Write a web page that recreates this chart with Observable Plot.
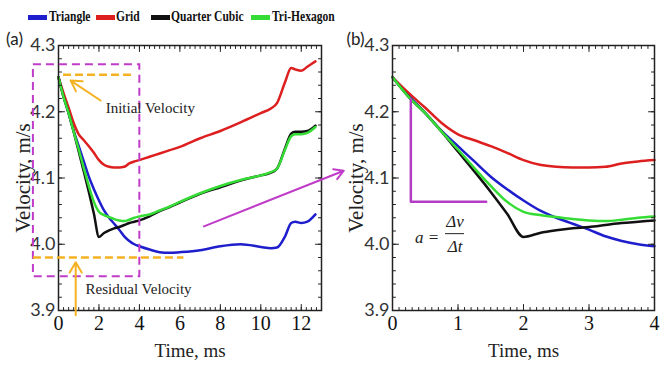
<!DOCTYPE html>
<html><head><meta charset="utf-8">
<script src="https://cdn.jsdelivr.net/npm/d3@7"></script>
<script src="https://cdn.jsdelivr.net/npm/@observablehq/plot@0.6"></script>
<style>
body{margin:0;background:#fff;}
#wrap{position:relative;width:667px;height:365px;overflow:hidden;background:#fff;}
#legend{position:absolute;left:0;top:0;width:667px;height:30px;}
.sw{position:absolute;top:15px;height:5px;width:19px;}
.lb{position:absolute;top:7px;font:bold 15px "Liberation Serif",serif;transform:scaleX(0.77);transform-origin:left center;white-space:nowrap;color:#111;line-height:18px;}
#pa{position:absolute;left:0;top:30px;}
#pb{position:absolute;left:345px;top:30px;}
svg{overflow:visible;}
</style></head><body>
<div id="wrap"><div id="legend"></div><div id="pa"></div><div id="pb"></div></div>
<script>
// ---------- data ----------
const seriesNames = ["Triangle", "Grid", "Quarter Cubic", "Tri-Hexagon"];
const seriesColors = ["#1e1ecc", "#dd1f1f", "#111111", "#35dc35"];
const time = [0,0.25,0.5,0.75,1,1.25,1.5,1.75,2,2.25,2.5,2.75,3,3.25,3.5,3.75,4,4.5,5,5.5,6,7,8,9,10,10.5,10.8,11.2,11.5,11.7,12,12.3,12.7];
const triangle = [4.252,4.224,4.198,4.171,4.148,4.125,4.102,4.083,4.066,4.051,4.040,4.031,4.022,4.012,4.005,4.000,3.997,3.992,3.988,3.987,3.988,3.991,3.997,4.000,3.996,3.994,3.995,4.012,4.032,4.034,4.032,4.034,4.045];
const grid = [4.252,4.228,4.206,4.183,4.166,4.157,4.148,4.138,4.127,4.120,4.117,4.116,4.116,4.117,4.122,4.125,4.127,4.132,4.137,4.142,4.147,4.160,4.171,4.184,4.198,4.205,4.213,4.245,4.266,4.264,4.262,4.268,4.276];
const quarterCubic = [4.252,4.222,4.198,4.170,4.140,4.110,4.079,4.046,4.011,4.017,4.021,4.024,4.026,4.029,4.032,4.034,4.036,4.042,4.050,4.056,4.063,4.076,4.086,4.096,4.104,4.108,4.114,4.145,4.167,4.170,4.170,4.171,4.179];
const triHexagon = [4.252,4.222,4.198,4.170,4.143,4.115,4.088,4.064,4.049,4.044,4.041,4.038,4.036,4.035,4.037,4.040,4.042,4.045,4.051,4.057,4.064,4.077,4.088,4.097,4.104,4.109,4.114,4.143,4.163,4.166,4.166,4.168,4.177];
const seriesValues = [triangle, grid, quarterCubic, triHexagon];

const xTicksA = [0,2,4,6,8,10,12];
const xTicksB = [0,1,2,3,4];
const yTicks = [3.9,4.0,4.1,4.2,4.3];

// annotations (data coordinates)
const boxT = [-1.24, 4.02], boxV = [3.951, 4.271];
const initLineT = [0.25, 3.72], initLineV = 4.256;
const resLineT = [-1.24, 6.2], resLineV = 3.980;
const initArrow = [2.08, 4.217, 0.6, 4.247];
const resArrow = [0.85, 3.893, 0.85, 3.973];
const initLabel = [2.33, 4.205, "Initial Velocity"];
const resLabel = [1.34, 3.932, "Residual Velocity"];
const linkArrow = [7.19, 4.027, 14.1, 4.111];
const slopeT = [0.28, 0.28, 1.43], slopeV = [4.219, 4.064, 4.064];
const formula = {aT: 0.53, aV: 4.010, numV: 4.034, fracT: 0.955, barT: [0.81, 1.10], barV: 4.016, denV: 3.997};

// ---------- build table ----------
const rows = seriesNames.flatMap((s, i) => time.map((t, j) => ({series: s, t, v: seriesValues[i][j]})));

// ---------- legend ----------
const legendSwX = [28, 96, 151, 251], legendLbX = [49, 116, 171, 272];
const lg = document.getElementById("legend");
seriesNames.forEach((s, i) => {
  const sw = document.createElement("div"); sw.className = "sw";
  sw.style.left = legendSwX[i] + "px"; sw.style.background = seriesColors[i]; lg.appendChild(sw);
  const lb = document.createElement("div"); lb.className = "lb";
  lb.style.left = legendLbX[i] + "px"; lb.textContent = s; lg.appendChild(lb);
});

// ---------- helpers ----------
const MAG = "#c03cc8", ORG = "#f4b223";
const tickShape = {draw(ctx, l) { ctx.moveTo(0, 0); ctx.lineTo(0, -l); }};
function frameTicks(xd, yd, xMinor, xMajor) {
  const yMinor = d3.range(3.9, 4.3001, 0.02), yMajor = yTicks;
  const o = {anchor: "start", shape: tickShape, stroke: "#222", strokeWidth: 1};
  const m = [];
  for (const [vals, len] of [[xMinor, 3], [xMajor, 6]]) {
    m.push(Plot.vector(vals, {...o, x: d => d, y: yd[0], length: len, rotate: 0}));
    m.push(Plot.vector(vals, {...o, x: d => d, y: yd[1], length: len, rotate: 180}));
  }
  for (const [vals, len] of [[yMinor, 3], [yMajor, 6]]) {
    m.push(Plot.vector(vals, {...o, y: d => d, x: xd[0], length: len, rotate: 90}));
    m.push(Plot.vector(vals, {...o, y: d => d, x: xd[1], length: len, rotate: -90}));
  }
  return m;
}
function commonMarks(xd, yd, xTicks, panelLabel, dxLabel, dxTitle) {
  return [
    // x tick labels (serif)
    Plot.text(xTicks, {x: d => d, y: yd[0], dy: 13, text: d => String(d), fontSize: 20, fontFamily: "Liberation Serif", fill: "#111", textAnchor: "middle", lineAnchor: "middle"}),
    // y tick labels (sans)
    Plot.text(yTicks, {x: xd[0], y: d => d, dx: -3, text: d => d.toFixed(1), fontSize: 18, fontFamily: "Lato", fill: "#333", textAnchor: "end", lineAnchor: "middle"}),
    Plot.text([panelLabel], {frameAnchor: "top-left", dx: dxLabel, dy: -6, text: d => d, fontSize: 17, fontFamily: "Lato", fill: "#222", textAnchor: "middle", lineAnchor: "middle"}),
    Plot.text(["Time, ms"], {frameAnchor: "bottom", dy: 40, text: d => d, fontSize: 19, fontFamily: "Liberation Serif", fill: "#222", textAnchor: "middle", lineAnchor: "middle"}),
    Plot.text(["Velocity, m/s"], {frameAnchor: "left", dx: dxTitle, rotate: -90, text: d => d, fontSize: 21, fontFamily: "Liberation Serif", fill: "#222", letterSpacing: "1.5px", textAnchor: "middle", lineAnchor: "middle"})
  ];
}
const colorScale = {domain: seriesNames, range: seriesColors};

// ---------- panel (a) ----------
const xdA = [0, 13], yd = [3.9, 4.3];
const pa = Plot.plot({
  width: 345, height: 335, marginLeft: 58, marginRight: 24, marginTop: 15, marginBottom: 55,
  x: {domain: xdA, axis: null}, y: {domain: yd, axis: null}, color: colorScale,
  style: {background: "transparent", overflow: "visible"},
  marks: [
    ...commonMarks(xdA, yd, xTicksA, "(a)", -44, -35),
    Plot.line(rows, {x: "t", y: "v", z: "series", stroke: "series", strokeWidth: 2.5, curve: "monotone-x"}),
    Plot.frame({stroke: "#222", strokeWidth: 1.5}),
    ...frameTicks(xdA, yd, d3.range(0, 13.001, 0.25), xTicksA),
    Plot.rect([0], {x1: boxT[0], x2: boxT[1], y1: boxV[0], y2: boxV[1], fill: "none", stroke: MAG, strokeWidth: 2, strokeDasharray: "8,5"}),
    Plot.ruleY([initLineV], {x1: initLineT[0], x2: initLineT[1], stroke: ORG, strokeWidth: 2.5, strokeDasharray: "8,4"}),
    Plot.ruleY([resLineV], {x1: resLineT[0], x2: resLineT[1], stroke: ORG, strokeWidth: 2.5, strokeDasharray: "8,4"}),
    Plot.arrow([initArrow], {x1: d => d[0], y1: d => d[1], x2: d => d[2], y2: d => d[3], stroke: ORG, strokeWidth: 2, headLength: 9}),
    Plot.arrow([resArrow], {x1: d => d[0], y1: d => d[1], x2: d => d[2], y2: d => d[3], stroke: ORG, strokeWidth: 2, headLength: 9}),
    Plot.text([initLabel, resLabel], {x: d => d[0], y: d => d[1], text: d => d[2], textAnchor: "start", fontSize: 15, fontFamily: "Liberation Serif", fill: "#222"}),
    Plot.arrow([linkArrow], {x1: d => d[0], y1: d => d[1], x2: d => d[2], y2: d => d[3], stroke: MAG, strokeWidth: 2, headLength: 8})
  ]
});
document.getElementById("pa").appendChild(pa);

// ---------- panel (b) ----------
const xdB = [0, 4];
const rowsB = rows.filter(d => d.t <= 4);
const pb = Plot.plot({
  width: 322, height: 335, marginLeft: 47, marginRight: 13, marginTop: 15, marginBottom: 55,
  x: {domain: xdB, axis: null}, y: {domain: yd, axis: null}, color: colorScale,
  style: {background: "transparent", overflow: "visible"},
  marks: [
    ...commonMarks(xdB, yd, xTicksB, "(b)", -37, -36),
    Plot.line(rowsB, {x: "t", y: "v", z: "series", stroke: "series", strokeWidth: 2.5, curve: "monotone-x"}),
    Plot.frame({stroke: "#222", strokeWidth: 1.5}),
    ...frameTicks(xdB, yd, d3.range(0, 4.001, 0.1), xTicksB),
    Plot.line(slopeT.map((t, i) => [t, slopeV[i]]), {x: d => d[0], y: d => d[1], stroke: "#b43cc4", strokeWidth: 2.5}),
    Plot.text(["a ="], {x: formula.aT, y: formula.aV, text: d => d, fontSize: 17, fontFamily: "Liberation Serif", fontStyle: "italic", fill: "#222"}),
    Plot.text(["Δv"], {x: formula.fracT, y: formula.numV, text: d => d, fontSize: 17, fontFamily: "Liberation Serif", fontStyle: "italic", fill: "#222"}),
    Plot.text(["Δt"], {x: formula.fracT, y: formula.denV, text: d => d, fontSize: 17, fontFamily: "Liberation Serif", fontStyle: "italic", fill: "#222"}),
    Plot.ruleY([formula.barV], {x1: formula.barT[0], x2: formula.barT[1], stroke: "#222", strokeWidth: 1})
  ]
});
document.getElementById("pb").appendChild(pb);
</script>
</body></html>
